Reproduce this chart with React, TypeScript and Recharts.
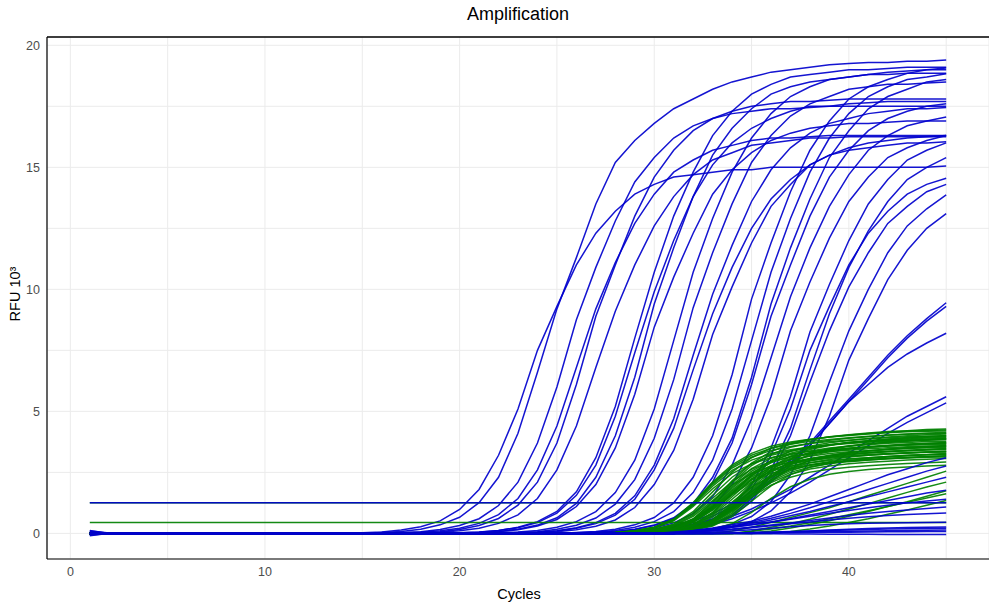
import React from 'react';
import { LineChart, Line, XAxis, YAxis, CartesianGrid, ReferenceLine } from 'recharts';

// cycles 1..45
const cycles = [
  1, 2, 3, 4, 5, 6, 7, 8, 9, 10, 11, 12, 13, 14, 15, 16, 17, 18, 19, 20, 21, 22, 23,
  24, 25, 26, 27, 28, 29, 30, 31, 32, 33, 34, 35, 36, 37, 38, 39, 40, 41, 42, 43, 44, 45,
];

const xTicks = [0, 10, 20, 30, 40];
const xGridTicks = [0, 5, 10, 15, 20, 25, 30, 35, 40, 45];
const yTicks = [0, 5, 10, 15, 20];
const yGridTicks = [0, 2.5, 5, 7.5, 10, 12.5, 15, 17.5, 20];
const xDomain = [-1.2, 47.2];
const yDomain = [-1.05, 20.34];

// RFU (x10^3) per cycle, blue wells that amplify early
const blueEarly: number[][] = [
  [0.1,0.02,0,0,0, 0,0,0,0,0, 0,0,0,0, 0.03,0.06,0.14,0.27,0.51,0.98,1.8,3.2,5.1,7.5,9.3,11,12.3,13.2,13.9,14.3,14.6,14.7,14.8,14.9,14.9,15,15,15,15,15,15,15,15,15,15.05],
  [-0.05,0,0,0,0, 0,0,0,0,0, 0,0,0,0,0, 0.04,0.08,0.17,0.35,0.66,1.26,2.3,4.1,6.6,9.2,11.3,13.5,15.2,16.1,16.8,17.4,17.8,18.2,18.5,18.7,18.9,19,19.1,19.2,19.25,19.3,19.3,19.35,19.35,19.4],
  [0.08,0,0,0,0, 0,0,0,0,0, 0,0,0,0,0, 0, 0.035,0.07,0.16,0.32,0.6,1.14,2.1,3.7,6,8.75,10.9,12.8,14.4,15.4,16.2,16.7,17,17.2,17.3,17.4,17.4,17.45,17.5,17.5,17.5,17.5,17.5,17.5,17.5],
  [0,0,0,0,0, 0,0,0,0,0, 0,0,0,0,0, 0, 0.02,0.05,0.11,0.21,0.41,0.77,1.43,2.6,4.4,6.8,9.2,11.1,12.7,13.9,14.8,15.3,15.7,15.9,16.1,16.2,16.2,16.25,16.3,16.3,16.3,16.3,16.3,16.3,16.3],
  [-0.1,0,0,0,0, 0,0,0,0,0, 0,0,0,0,0, 0,0, 0.04,0.07,0.16,0.32,0.61,1.16,2.1,3.7,6.1,8.9,11,13,14.6,15.7,16.5,17,17.3,17.5,17.6,17.7,17.7,17.75,17.8,17.8,17.8,17.8,17.8,17.8],
  [0,0,0,0,0, 0,0,0,0,0, 0,0,0,0,0, 0,0, 0.02,0.05,0.11,0.21,0.41,0.76,1.43,2.6,4.4,6.8,9.1,11,12.6,13.8,14.7,15.3,15.6,15.9,16,16.1,16.2,16.2,16.25,16.25,16.25,16.25,16.25,16.25],
];

const blueMid: number[][] = [
  [0,0,0,0,0, 0,0,0,0,0, 0,0,0,0,0, 0,0,0,0, 0.03,0.06,0.12,0.25,0.48,0.9,1.7,3.1,5.2,8,10.7,13,14.8,16.3,17.3,18,18.4,18.7,18.8,18.9,19,19,19.05,19.1,19.1,19.1],
  [0,0,0,0,0, 0,0,0,0,0, 0,0,0,0,0, 0,0,0,0,0, 0.04,0.08,0.17,0.34,0.64,1.23,2.3,4,6.4,9.4,11.7,13.8,15.5,16.6,17.4,18,18.3,18.5,18.6,18.7,18.8,18.8,18.85,18.85,18.85],
  [0,0,0,0,0, 0,0,0,0,0, 0,0,0,0,0, 0,0,0,0, 0.03,0.05,0.12,0.23,0.44,0.83,1.56,2.8,4.8,7.4,9.9,12,13.8,15.1,16,16.6,17,17.3,17.5,17.5,17.6,17.65,17.7,17.7,17.7,17.7],
  [0.05,0,0,0,0, 0,0,0,0,0, 0,0,0,0,0, 0,0,0,0,0, 0.03,0.07,0.15,0.3,0.57,1.1,2,3.5,5.7,8.45,10.5,12.3,13.9,14.9,15.6,16.1,16.4,16.6,16.7,16.8,16.8,16.85,16.9,16.9,16.9],
  [0,0,0,0,0, 0,0,0,0,0, 0,0,0,0,0, 0,0,0,0,0, 0, 0.03,0.06,0.12,0.25,0.48,0.89,1.67,3,5.1,7.9,10.7,12.9,14.8,16.2,17.2,17.9,18.3,18.6,18.7,18.8,18.9,18.95,19,19],
  [0,0,0,0,0, 0,0,0,0,0, 0,0,0,0,0, 0,0,0,0,0, 0,0, 0.04,0.07,0.17,0.33,0.63,1.2,2.2,3.9,6.3,9.25,11.5,13.5,15.2,16.3,17.1,17.6,17.9,18.2,18.3,18.4,18.4,18.45,18.5],
  [0,0,0,0,0, 0,0,0,0,0, 0,0,0,0,0, 0,0,0,0,0, 0,0, 0.03,0.05,0.11,0.23,0.44,0.82,1.54,2.8,4.7,7.3,9.8,11.8,13.6,14.9,15.8,16.4,16.8,17,17.2,17.3,17.4,17.4,17.45],
  [-0.08,0,0,0,0, 0,0,0,0,0, 0,0,0,0,0, 0,0,0,0,0, 0,0, 0.02,0.05,0.1,0.21,0.4,0.75,1.4,2.6,4.3,6.7,9,10.9,12.5,13.7,14.5,15.1,15.5,15.7,15.8,15.9,16,16,16.05],
  [0,0,0,0,0, 0,0,0,0,0, 0,0,0,0,0, 0,0,0,0,0, 0,0,0, 0.03,0.07,0.15,0.29,0.55,1.06,2,3.4,5.5,8.15,10.1,11.9,13.4,14.3,15.1,15.5,15.8,16,16.1,16.2,16.25,16.3],
];

const blueLate: number[][] = [
  [0,0,0,0,0, 0,0,0,0,0, 0,0,0,0,0, 0,0,0,0,0, 0,0,0,0,0, 0.04,0.08,0.17,0.35,0.65,1.25,2.3,4,6.5,9.6,11.9,14,15.7,16.9,17.8,18.3,18.6,18.85,19,19.07],
  [0,0,0,0,0, 0,0,0,0,0, 0,0,0,0,0, 0,0,0,0,0, 0,0,0,0,0, 0.03,0.06,0.12,0.25,0.48,0.89,1.67,3,5.1,7.9,10.7,12.9,14.8,16.2,17.2,17.9,18.3,18.6,18.7,18.83],
  [0,0,0,0,0, 0,0,0,0,0, 0,0,0,0,0, 0,0,0,0,0, 0,0,0,0,0, 0, 0.04,0.08,0.17,0.34,0.64,1.22,2.3,3.9,6.4,9.4,11.7,13.7,15.4,16.5,17.4,17.9,18.2,18.5,18.6],
  [0,0,0,0,0, 0,0,0,0,0, 0,0,0,0,0, 0,0,0,0,0, 0,0,0,0,0, 0, 0.04,0.07,0.16,0.32,0.61,1.16,2.1,3.7,6.1,8.9,11,13,14.6,15.7,16.5,17,17.3,17.5,17.6],
  [0.12,0,0,0,0, 0,0,0,0,0, 0,0,0,0,0, 0,0,0,0,0, 0,0,0,0,0, 0, 0.03,0.05,0.11,0.22,0.43,0.81,1.5,2.8,4.7,7.2,9.7,11.7,13.4,14.7,15.7,16.3,16.7,16.9,17.06],
  [0,0,0,0,0, 0,0,0,0,0, 0,0,0,0,0, 0,0,0,0,0, 0,0,0,0,0, 0,0, 0.03,0.07,0.15,0.3,0.56,1.08,2,3.5,5.6,8.3,10.3,12.1,13.6,14.6,15.4,15.8,16.1,16.3],
  [0,0,0,0,0, 0,0,0,0,0, 0,0,0,0,0, 0,0,0,0,0, 0,0,0,0,0, 0,0,0, 0.03,0.07,0.15,0.3,0.56,1.07,2,3.5,5.6,8.25,10.2,12,13.5,14.5,15.3,15.7,16],
  [0,0,0,0,0, 0,0,0,0,0, 0,0,0,0,0, 0,0,0,0,0, 0,0,0,0,0, 0,0,0, 0.02,0.05,0.1,0.21,0.4,0.75,1.41,2.6,4.3,6.7,9,10.9,12.4,13.6,14.5,15,15.4],
  [0,0,0,0,0, 0,0,0,0,0, 0,0,0,0,0, 0,0,0,0,0, 0,0,0,0,0, 0,0,0, 0.03,0.06,0.14,0.27,0.51,0.98,1.8,3.2,5.1,7.5,9.3,11,12.3,13.2,13.9,14.3,14.55],
  [0,0,0,0,0, 0,0,0,0,0, 0,0,0,0,0, 0,0,0,0,0, 0,0,0,0,0, 0,0,0, 0.02,0.04,0.1,0.19,0.37,0.7,1.31,2.4,4,6.2,8.3,10.1,11.5,12.7,13.4,14,14.3],
  [0,0,0,0,0, 0,0,0,0,0, 0,0,0,0,0, 0,0,0,0,0, 0,0,0,0,0, 0,0,0,0, 0.02,0.04,0.1,0.19,0.37,0.69,1.3,2.4,4,6.2,8.3,10,11.5,12.6,13.3,13.87],
  [0,0,0,0,0, 0,0,0,0,0, 0,0,0,0,0, 0,0,0,0,0, 0,0,0,0,0, 0,0,0,0,0, 0.03,0.06,0.13,0.26,0.48,0.92,1.7,3,4.8,7.1,8.8,10.4,11.6,12.5,13.1],
];

// slowly rising blue wells
const blueSlow: number[][] = [
  [0,0,0,0,0, 0,0,0,0,0, 0,0,0,0,0, 0,0,0,0,0, 0,0,0,0,0, 0,0, 0.05,0.1,0.18,0.3,0.5,0.8,1.2,1.7,2.3,3,3.7,4.6,5.5,6.4,7.3,8.1,8.8,9.45],
  [0,0,0,0,0, 0,0,0,0,0, 0,0,0,0,0, 0,0,0,0,0, 0,0,0,0,0, 0,0, 0.04,0.08,0.13,0.2,0.4,0.7,1.1,1.6,2.2,2.9,3.6,4.5,5.4,6.3,7.2,8,8.7,9.3],
  [0,0,0,0,0, 0,0,0,0,0, 0,0,0,0,0, 0,0,0,0,0, 0,0,0,0,0, 0,0,0, 0.05,0.1,0.2,0.35,0.6,1,1.5,2.1,2.8,3.6,4.5,5.4,6.1,6.8,7.35,7.8,8.2],
  [0,0,0,0,0, 0,0,0,0,0, 0,0,0,0,0, 0,0,0,0,0, 0,0,0,0,0, 0,0,0,0, 0.05,0.1,0.2,0.4,0.7,1,1.4,1.8,2.3,2.8,3.3,3.8,4.3,4.8,5.2,5.6],
  [0,0,0,0,0, 0,0,0,0,0, 0,0,0,0,0, 0,0,0,0,0, 0,0,0,0,0, 0,0,0,0, 0.04,0.1,0.2,0.35,0.6,0.9,1.25,1.65,2.1,2.6,3.1,3.6,4.1,4.55,4.95,5.35],
];

const blueLow: number[][] = [
  [0,0,0,0,0, 0,0,0,0,0, 0,0,0,0,0, 0,0,0,0,0, 0,0,0,0,0, 0,0,0,0,0, 0.06,0.12,0.22,0.35,0.5,0.7,0.95,1.2,1.5,1.8,2.1,2.4,2.65,2.9,3.1],
  [0,0,0,0,0, 0,0,0,0,0, 0,0,0,0,0, 0,0,0,0,0, 0,0,0,0,0, 0,0,0,0,0, 0, 0.1,0.2,0.3,0.45,0.62,0.82,1.05,1.3,1.55,1.8,2.05,2.3,2.55,2.76],
  [0,0,0,0,0, 0,0,0,0,0, 0,0,0,0,0, 0,0,0,0,0, 0,0,0,0,0, 0,0,0,0,0, 0, 0.1,0.18,0.28,0.4,0.55,0.72,0.9,1.1,1.3,1.5,1.7,1.9,2.1,2.3],
  [0,0,0,0,0, 0,0,0,0,0, 0,0,0,0,0, 0,0,0,0,0, 0,0,0,0,0, 0,0,0,0,0, 0, 0.1,0.16,0.25,0.35,0.47,0.6,0.75,0.9,1.05,1.2,1.35,1.5,1.65,1.77],
  [0,0,0,0,0, 0,0,0,0,0, 0,0,0,0,0, 0,0,0,0,0, 0,0,0,0,0, 0,0,0,0,0, 0, 0.09,0.16,0.25,0.35,0.46,0.58,0.7,0.82,0.94,1.05,1.15,1.25,1.33,1.4],
  [0,0,0,0,0, 0,0,0,0,0, 0,0,0,0,0, 0,0,0,0,0, 0,0,0,0,0, 0,0,0,0,0, 0, 0.07,0.12,0.18,0.26,0.34,0.43,0.53,0.63,0.73,0.82,0.9,0.96,1.02,1.08],
  [0,0,0,0,0, 0,0,0,0,0, 0,0,0,0,0, 0,0,0,0,0, 0,0,0,0,0, 0,0,0,0,0, 0, 0.05,0.1,0.16,0.23,0.31,0.39,0.47,0.55,0.62,0.68,0.73,0.77,0.8,0.83],
  [0,0,0,0,0, 0,0,0,0,0, 0,0,0,0,0, 0,0,0,0,0, 0,0,0,0,0, 0,0,0,0,0, 0,0, 0.06,0.1,0.15,0.21,0.27,0.32,0.36,0.39,0.41,0.43,0.44,0.45,0.46],
  [0,0,0,0,0, 0,0,0,0,0, 0,0,0,0,0, 0,0,0,0,0, 0,0,0,0,0, 0,0,0,0,0, 0,0,0,0,0, 0.03,0.06,0.1,0.14,0.17,0.2,0.22,0.24,0.25,0.26],
  [0,0,0,0,0, 0,0,0,0,0, 0,0,0,0,0, 0,0,0,0,0, 0,0,0,0,0, 0,0,0,0,0, 0,0,0, 0.02,0.04,0.06,0.08,0.1,0.12,0.14,0.16,0.18,0.19,0.2,0.21],
  [0,0,0,0,0, 0,0,0,0,0, 0,0,0,0,0, 0,0,0,0,0, 0,0,0,0,0, 0,0,0,0,0, 0,0,0, 0.01,0.03,0.04,0.06,0.07,0.08,0.09,0.1,0.11,0.12,0.13,0.14],
  [0,0,0,0,0, 0,0,0,0,0, 0,0,0,0,0, 0,0,0,0,0, 0,0,0,0,0, 0,0,0,0,0, 0,0,0, 0.01,0.02,0.03,0.03,0.04,0.05,0.05,0.06,0.07,0.07,0.08,0.08],
  [0,0,0,0,0, 0,0,0,0,0, 0,0,0,0,0, 0,0,0,0,0, 0,0,0,0,0, 0,0,0,0,0, 0,0,0, -0.01,-0.02,-0.02,-0.03,-0.03,-0.04,-0.04,-0.04,-0.05,-0.05,-0.05,-0.05],
];

const blueFlat: number[][] = [
  [1.25,1.25,1.25,1.25,1.25, 1.25,1.25,1.25,1.25,1.25, 1.25,1.25,1.25,1.25,1.25, 1.25,1.25,1.25,1.25,1.25, 1.25,1.25,1.25,1.25,1.25, 1.25,1.25,1.25,1.25,1.25, 1.25,1.25,1.25,1.25,1.25, 1.25,1.25,1.25,1.25,1.25, 1.25,1.25,1.25,1.25,1.25],
];

// green wells (lower plateau)
const greenBand: number[][] = [
  [0,0,0,0,0, 0,0,0,0,0, 0,0,0,0,0, 0,0,0,0,0, 0,0,0,0,0, 0,0,0, 0.04,0.11,0.26,0.6,1.29,2.15,2.88,3.35,3.66,3.83,3.96,4.04,4.11,4.17,4.21,4.26,4.28],
  [0,0,0,0,0, 0,0,0,0,0, 0,0,0,0,0, 0,0,0,0,0, 0,0,0,0,0, 0,0, 0.03,0.07,0.17,0.38,0.89,1.7,2.51,3.1,3.49,3.7,3.85,3.95,4.03,4.09,4.14,4.19,4.22,4.24],
  [0,0,0,0,0, 0,0,0,0,0, 0,0,0,0,0, 0,0,0,0,0, 0,0,0,0,0, 0,0, 0.04,0.11,0.25,0.59,1.26,2.1,2.81,3.28,3.57,3.74,3.86,3.95,4.01,4.07,4.12,4.16,4.18,4.2],
  [0,0,0,0,0, 0,0,0,0,0, 0,0,0,0,0, 0,0,0,0,0, 0,0,0,0,0, 0,0,0, 0.04,0.1,0.25,0.58,1.25,2.08,2.78,3.24,3.53,3.69,3.82,3.9,3.96,4.03,4.07,4.11,4.13],
  [0,0,0,0,0, 0,0,0,0,0, 0,0,0,0,0, 0,0,0,0,0, 0,0,0,0,0, 0,0, 0.04,0.1,0.25,0.57,1.23,2.05,2.75,3.2,3.49,3.65,3.77,3.85,3.92,3.98,4.02,4.06,4.08,4.1],
  [0,0,0,0,0, 0,0,0,0,0, 0,0,0,0,0, 0,0,0,0,0, 0,0,0,0,0, 0,0,0, 0.03,0.07,0.16,0.37,0.86,1.64,2.42,2.99,3.36,3.57,3.71,3.81,3.89,3.95,4,4.04,4.07],
  [0,0,0,0,0, 0,0,0,0,0, 0,0,0,0,0, 0,0,0,0,0, 0,0,0,0,0, 0,0,0,0, 0.04,0.1,0.24,0.57,1.22,2.03,2.71,3.16,3.44,3.6,3.73,3.81,3.87,3.93,3.97,4.01],
  [0,0,0,0,0, 0,0,0,0,0, 0,0,0,0,0, 0,0,0,0,0, 0,0,0,0,0, 0,0, 0.04,0.1,0.24,0.56,1.2,2,2.68,3.12,3.4,3.56,3.68,3.76,3.82,3.88,3.92,3.96,3.98,4],
  [0,0,0,0,0, 0,0,0,0,0, 0,0,0,0,0, 0,0,0,0,0, 0,0,0,0,0, 0,0,0, 0.03,0.06,0.16,0.36,0.84,1.6,2.36,2.92,3.28,3.48,3.62,3.72,3.79,3.85,3.9,3.94,3.97],
  [0,0,0,0,0, 0,0,0,0,0, 0,0,0,0,0, 0,0,0,0,0, 0,0,0,0,0, 0,0,0, 0.04,0.1,0.24,0.55,1.19,1.98,2.65,3.08,3.36,3.52,3.63,3.71,3.77,3.83,3.87,3.91,3.93],
  [0,0,0,0,0, 0,0,0,0,0, 0,0,0,0,0, 0,0,0,0,0, 0,0,0,0,0, 0,0,0,0, 0.03,0.06,0.16,0.36,0.83,1.58,2.33,2.88,3.24,3.44,3.57,3.67,3.74,3.8,3.85,3.89],
  [0,0,0,0,0, 0,0,0,0,0, 0,0,0,0,0, 0,0,0,0,0, 0,0,0,0,0, 0,0,0,0, 0.04,0.1,0.23,0.55,1.17,1.95,2.61,3.04,3.32,3.47,3.59,3.67,3.72,3.78,3.82,3.86],
  [0,0,0,0,0, 0,0,0,0,0, 0,0,0,0,0, 0,0,0,0,0, 0,0,0,0,0, 0,0, 0.03,0.06,0.16,0.35,0.82,1.56,2.3,2.85,3.2,3.39,3.53,3.63,3.7,3.76,3.8,3.84,3.87,3.89],
  [0,0,0,0,0, 0,0,0,0,0, 0,0,0,0,0, 0,0,0,0,0, 0,0,0,0,0, 0,0, 0.04,0.1,0.23,0.54,1.16,1.93,2.58,3,3.27,3.43,3.54,3.62,3.68,3.73,3.77,3.81,3.83,3.85],
  [0,0,0,0,0, 0,0,0,0,0, 0,0,0,0,0, 0,0,0,0,0, 0,0,0,0,0, 0,0,0, 0.04,0.1,0.23,0.53,1.14,1.9,2.55,2.96,3.23,3.38,3.5,3.57,3.63,3.69,3.72,3.76,3.78],
  [0,0,0,0,0, 0,0,0,0,0, 0,0,0,0,0, 0,0,0,0,0, 0,0,0,0,0, 0,0,0, 0.03,0.06,0.15,0.34,0.79,1.5,2.21,2.74,3.08,3.26,3.39,3.49,3.56,3.61,3.66,3.69,3.72],
  [0,0,0,0,0, 0,0,0,0,0, 0,0,0,0,0, 0,0,0,0,0, 0,0,0,0,0, 0,0,0,0, 0.04,0.09,0.23,0.53,1.13,1.88,2.51,2.93,3.19,3.34,3.45,3.53,3.58,3.64,3.68,3.71],
  [0,0,0,0,0, 0,0,0,0,0, 0,0,0,0,0, 0,0,0,0,0, 0,0,0,0,0, 0,0,0, 0.04,0.09,0.22,0.52,1.11,1.85,2.48,2.89,3.15,3.29,3.4,3.48,3.53,3.59,3.63,3.66,3.68],
  [0,0,0,0,0, 0,0,0,0,0, 0,0,0,0,0, 0,0,0,0,0, 0,0,0,0,0, 0,0, 0.04,0.09,0.22,0.51,1.1,1.83,2.45,2.85,3.1,3.25,3.36,3.43,3.49,3.54,3.58,3.61,3.63,3.65],
  [0,0,0,0,0, 0,0,0,0,0, 0,0,0,0,0, 0,0,0,0,0, 0,0,0,0,0, 0,0,0,0, 0.03,0.06,0.15,0.33,0.77,1.46,2.15,2.66,2.99,3.18,3.3,3.39,3.46,3.52,3.56,3.6],
  [0,0,0,0,0, 0,0,0,0,0, 0,0,0,0,0, 0,0,0,0,0, 0,0,0,0,0, 0,0, 0.03,0.06,0.14,0.32,0.76,1.44,2.12,2.63,2.95,3.13,3.26,3.35,3.41,3.47,3.51,3.55,3.57,3.59],
  [0,0,0,0,0, 0,0,0,0,0, 0,0,0,0,0, 0,0,0,0,0, 0,0,0,0,0, 0,0,0,0, 0.04,0.09,0.22,0.5,1.08,1.8,2.41,2.81,3.06,3.2,3.31,3.38,3.44,3.49,3.53,3.56],
  [0,0,0,0,0, 0,0,0,0,0, 0,0,0,0,0, 0,0,0,0,0, 0,0,0,0,0, 0,0,0, 0.04,0.09,0.21,0.5,1.07,1.78,2.38,2.77,3.02,3.16,3.27,3.34,3.39,3.44,3.48,3.51,3.53],
  [0,0,0,0,0, 0,0,0,0,0, 0,0,0,0,0, 0,0,0,0,0, 0,0,0,0,0, 0,0,0, 0.02,0.06,0.14,0.32,0.74,1.4,2.07,2.56,2.87,3.05,3.17,3.26,3.32,3.37,3.41,3.45,3.48],
  [0,0,0,0,0, 0,0,0,0,0, 0,0,0,0,0, 0,0,0,0,0, 0,0,0,0,0, 0,0,0,0, 0.04,0.09,0.21,0.49,1.05,1.75,2.35,2.73,2.98,3.12,3.22,3.29,3.34,3.4,3.43,3.47],
  [0,0,0,0,0, 0,0,0,0,0, 0,0,0,0,0, 0,0,0,0,0, 0,0,0,0,0, 0,0,0, 0.03,0.09,0.21,0.48,1.04,1.73,2.31,2.69,2.93,3.07,3.17,3.24,3.29,3.35,3.38,3.42,3.43],
  [0,0,0,0,0, 0,0,0,0,0, 0,0,0,0,0, 0,0,0,0,0, 0,0,0,0,0, 0,0,0,0, 0.03,0.09,0.2,0.48,1.02,1.7,2.28,2.65,2.89,3.03,3.13,3.2,3.25,3.3,3.33,3.37],
  [0,0,0,0,0, 0,0,0,0,0, 0,0,0,0,0, 0,0,0,0,0, 0,0,0,0,0, 0,0, 0.02,0.05,0.13,0.3,0.7,1.34,1.98,2.45,2.75,2.91,3.03,3.12,3.18,3.23,3.27,3.3,3.33,3.34],
  [0,0,0,0,0, 0,0,0,0,0, 0,0,0,0,0, 0,0,0,0,0, 0,0,0,0,0, 0,0,0, 0.03,0.08,0.2,0.47,1.01,1.68,2.24,2.61,2.85,2.98,3.08,3.15,3.2,3.25,3.28,3.32,3.33],
  [0,0,0,0,0, 0,0,0,0,0, 0,0,0,0,0, 0,0,0,0,0, 0,0,0,0,0, 0,0,0,0, 0.02,0.05,0.13,0.3,0.69,1.32,1.95,2.41,2.71,2.87,2.99,3.07,3.13,3.18,3.22,3.25],
  [0,0,0,0,0, 0,0,0,0,0, 0,0,0,0,0, 0,0,0,0,0, 0,0,0,0,0, 0,0,0,0, 0.03,0.08,0.2,0.46,0.99,1.65,2.21,2.57,2.81,2.94,3.04,3.1,3.15,3.2,3.23,3.27],
  [0,0,0,0,0, 0,0,0,0,0, 0,0,0,0,0, 0,0,0,0,0, 0,0,0,0,0, 0,0,0, 0.03,0.08,0.2,0.46,0.98,1.63,2.18,2.54,2.76,2.89,2.99,3.06,3.1,3.15,3.19,3.22,3.23],
  [0,0,0,0,0, 0,0,0,0,0, 0,0,0,0,0, 0,0,0,0,0, 0,0,0,0,0, 0,0,0,0, 0.03,0.08,0.19,0.45,0.96,1.6,2.14,2.5,2.72,2.85,2.94,3.01,3.06,3.1,3.14,3.17],
  [0,0,0,0,0, 0,0,0,0,0, 0,0,0,0,0, 0,0,0,0,0, 0,0,0,0,0, 0,0,0, 0.02,0.05,0.13,0.29,0.67,1.28,1.89,2.34,2.62,2.78,2.9,2.98,3.03,3.08,3.12,3.15,3.18],
  [0,0,0,0,0, 0,0,0,0,0, 0,0,0,0,0, 0,0,0,0,0, 0,0,0,0,0, 0,0,0, 0.03,0.08,0.19,0.44,0.95,1.58,2.11,2.46,2.68,2.8,2.9,2.96,3.01,3.06,3.09,3.12,3.13],
  [0,0,0,0,0, 0,0,0,0,0, 0,0,0,0,0, 0,0,0,0,0, 0,0,0,0,0, 0,0,0,0, 0.03,0.08,0.19,0.43,0.93,1.55,2.08,2.42,2.64,2.76,2.85,2.91,2.96,3.01,3.04,3.07],
];

const greenLow: number[][] = [
  [0,0,0,0,0, 0,0,0,0,0, 0,0,0,0,0, 0,0,0,0,0, 0,0,0,0,0, 0,0,0,0, 0.03,0.07,0.18,0.41,0.89,1.48,1.98,2.3,2.51,2.63,2.71,2.77,2.82,2.86,2.89,2.92],
  [0,0,0,0,0, 0,0,0,0,0, 0,0,0,0,0, 0,0,0,0,0, 0,0,0,0,0, 0,0,0,0,0, 0.03,0.07,0.17,0.4,0.86,1.43,1.91,2.22,2.42,2.54,2.62,2.68,2.72,2.76,2.79],
  [0,0,0,0,0, 0,0,0,0,0, 0,0,0,0,0, 0,0,0,0,0, 0,0,0,0,0, 0,0,0,0,0, 0,0,0, 0.1,0.25,0.45,0.65,0.85,1.05,1.3,1.55,1.8,2.05,2.3,2.55],
  [0,0,0,0,0, 0,0,0,0,0, 0,0,0,0,0, 0,0,0,0,0, 0,0,0,0,0, 0,0,0,0,0, 0,0,0,0, 0.1,0.25,0.4,0.58,0.78,1,1.22,1.45,1.68,1.9,2.1],
  [0,0,0,0,0, 0,0,0,0,0, 0,0,0,0,0, 0,0,0,0,0, 0,0,0,0,0, 0,0,0,0,0, 0,0,0,0,0, 0.1,0.22,0.36,0.52,0.7,0.9,1.1,1.3,1.52,1.75],
  [0,0,0,0,0, 0,0,0,0,0, 0,0,0,0,0, 0,0,0,0,0, 0,0,0,0,0, 0,0,0,0,0, 0,0,0,0, 0.08,0.18,0.3,0.44,0.6,0.76,0.93,1.1,1.27,1.45,1.62],
  [0,0,0,0,0, 0,0,0,0,0, 0,0,0,0,0, 0,0,0,0,0, 0,0,0,0,0, 0,0,0,0,0, 0,0,0,0,0, 0, 0.08,0.18,0.3,0.45,0.6,0.78,0.96,1.15,1.35],
];

const greenFlat: number[][] = [
  [0.45,0.45,0.45,0.45,0.45, 0.45,0.45,0.45,0.45,0.45, 0.45,0.45,0.45,0.45,0.45, 0.45,0.45,0.45,0.45,0.45, 0.45,0.45,0.45,0.45,0.45, 0.45,0.45,0.45,0.45,0.45, 0.45,0.45,0.45,0.45,0.45, 0.45,0.45,0.45,0.45,0.45, 0.45,0.45,0.45,0.45,0.45],
  [1.25,1.25,1.25,1.25,1.25, 1.25,1.25,1.25,1.25,1.25, 1.25,1.25,1.25,1.25,1.25, 1.25,1.25,1.25,1.25,1.25, 1.25,1.25,1.25,1.25,1.25, 1.25,1.25,1.25,1.25,1.25, 1.25,1.25,1.25,1.25,1.25, 1.25,1.25,1.25,1.25,1.25, 1.25,1.25,1.25,1.25,1.25],
];

const BLUE = '#0000CD';
const GREEN = '#008000';

// drawing order: most blue, then green band, then low blue on top
const series = [
  ...blueEarly.map((v) => ({ v, color: BLUE })),
  ...blueMid.map((v) => ({ v, color: BLUE })),
  ...blueLate.map((v) => ({ v, color: BLUE })),
  ...blueSlow.map((v) => ({ v, color: BLUE })),
  ...greenFlat.map((v) => ({ v, color: GREEN })),
  ...greenBand.map((v) => ({ v, color: GREEN })),
  ...greenLow.map((v) => ({ v, color: GREEN })),
  ...blueLow.map((v) => ({ v, color: BLUE })),
  ...blueFlat.map((v) => ({ v, color: BLUE })),
].map((s, i) => ({ ...s, key: `s${i}` }));

// values are aligned on the last cycle
const data = cycles.map((c, i) => {
  const row: Record<string, number | null> = { cycle: c };
  series.forEach((s) => {
    const j = s.v.length - cycles.length + i;
    row[s.key] = j >= 0 ? s.v[j] : null;
  });
  return row;
});

const tickStyle = { fill: '#4d4d4d', fontSize: 12.5 };

export default function App() {
  return (
    <div
      style={{
        position: 'absolute',
        left: 0,
        top: 0,
        width: 989,
        height: 604,
        background: '#fff',
        fontFamily: '"Liberation Sans", Arial, sans-serif',
      }}
    >
      <div style={{ position: 'absolute', left: 518, top: 14, transform: 'translate(-50%, -50%)', fontSize: 18, color: '#000', whiteSpace: 'nowrap' }}>
        Amplification
      </div>
      <div style={{ position: 'absolute', left: 15, top: 294, transform: 'translate(-50%, -50%) rotate(-90deg)', fontSize: 14.5, color: '#000', whiteSpace: 'nowrap' }}>
        RFU 10³
      </div>
      <div style={{ position: 'absolute', left: 519, top: 594, transform: 'translate(-50%, -50%)', fontSize: 14.5, color: '#000', whiteSpace: 'nowrap' }}>
        Cycles
      </div>
      <LineChart width={989} height={604} data={data} margin={{ top: 37, right: 0, bottom: 15, left: 7 }}>
        <CartesianGrid xAxisId="g" yAxisId="g" stroke="#ebebeb" strokeWidth={1} />
        <XAxis xAxisId="g" type="number" dataKey="cycle" domain={xDomain} ticks={xGridTicks} hide allowDataOverflow />
        <YAxis yAxisId="g" type="number" domain={yDomain} ticks={yGridTicks} hide allowDataOverflow />
        <XAxis
          type="number"
          dataKey="cycle"
          domain={xDomain}
          ticks={xTicks}
          height={30}
          tickSize={0}
          tickMargin={8}
          tickLine={false}
          axisLine={{ stroke: '#000', strokeWidth: 1.2 }}
          tick={tickStyle}
          allowDataOverflow
        />
        <YAxis
          type="number"
          domain={yDomain}
          ticks={yTicks}
          width={40}
          tickSize={0}
          tickMargin={7}
          tickLine={false}
          axisLine={{ stroke: '#000', strokeWidth: 1.2 }}
          tick={tickStyle}
          allowDataOverflow
        />
        <ReferenceLine y={yDomain[1]} stroke="#000" strokeWidth={1.5} />
        {series.map((s) => (
          <Line
            key={s.key}
            dataKey={s.key}
            type="linear"
            stroke={s.color}
            strokeWidth={1.5}
            strokeOpacity={0.92}
            dot={false}
            activeDot={false}
            isAnimationActive={false}
          />
        ))}
      </LineChart>
    </div>
  );
}
